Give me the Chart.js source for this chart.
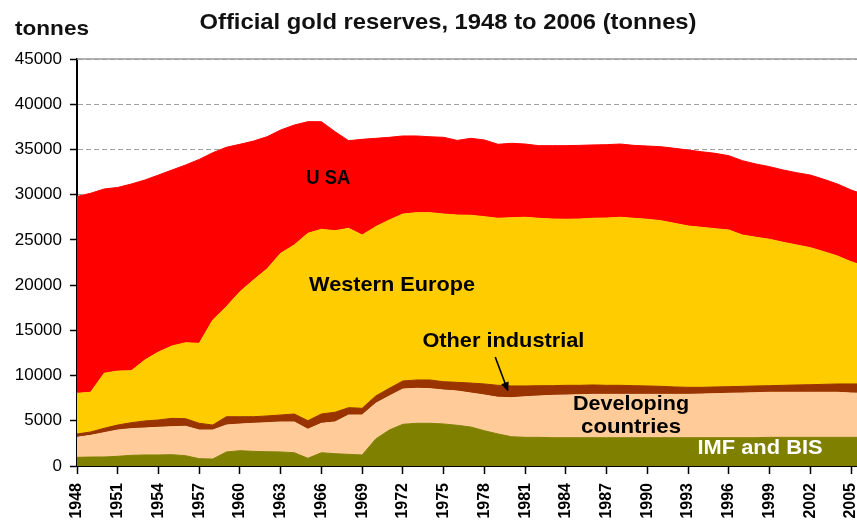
<!DOCTYPE html>
<html>
<head>
<meta charset="utf-8">
<script src="https://cdn.jsdelivr.net/npm/chart.js@4/dist/chart.umd.min.js"></script>
<style>
  html, body { margin: 0; padding: 0; background: #fff; overflow: hidden; }
  #wrap { width: 857px; height: 522px; position: relative; }
</style>
</head>
<body>
<div id="wrap"><canvas id="reservas"></canvas></div>
<script>
/* =====================================================
   Official gold reserves, 1948 to 2006 (tonnes)
   - stacked area, values
===================================================== */

const years = [
  1948, 1949, 1950, 1951, 1952, 1953, 1954, 1955, 1956, 1957,
  1958, 1959, 1960, 1961, 1962, 1963, 1964, 1965, 1966, 1967,
  1968, 1969, 1970, 1971, 1972, 1973, 1974, 1975, 1976, 1977,
  1978, 1979, 1980, 1981, 1982, 1983, 1984, 1985, 1986, 1987,
  1988, 1989, 1990, 1991, 1992, 1993, 1994, 1995, 1996, 1997,
  1998, 1999, 2000, 2001, 2002, 2003, 2004, 2005, 2006
];

const xTickYears = [1948, 1951, 1954, 1957, 1960, 1963, 1966, 1969, 1972, 1975,
  1978, 1981, 1984, 1987, 1990, 1993, 1996, 1999, 2002, 2005];

const imfBis = [
  960, 990, 1000, 1070, 1180, 1220, 1220, 1250, 1140, 810,
  770, 1550, 1690, 1620, 1580, 1550, 1470, 850, 1470, 1360,
  1290, 1220, 2990, 3980, 4610, 4720, 4720, 4650, 4500, 4310,
  3900, 3540, 3240, 3170, 3170, 3130, 3130, 3130, 3130, 3130,
  3130, 3130, 3130, 3130, 3130, 3130, 3130, 3130, 3130, 3130,
  3130, 3170, 3170, 3170, 3170, 3170, 3170, 3170, 3170
];

const developing = [
  2210, 2400, 2690, 2910, 2950, 2980, 3060, 3100, 3250, 3170,
  3210, 2980, 2950, 3100, 3210, 3320, 3400, 3210, 3250, 3510,
  4350, 4420, 3940, 3760, 3900, 3870, 3830, 3750, 3790, 3760,
  3950, 4060, 4310, 4490, 4570, 4680, 4720, 4750, 4790, 4790,
  4790, 4790, 4790, 4790, 4790, 4790, 4830, 4870, 4910, 4940,
  4980, 4980, 4980, 4980, 4980, 4980, 4980, 4900, 4870
];

const otherIndustrial = [
  370, 370, 480, 550, 660, 780, 810, 920, 840, 740,
  550, 920, 810, 730, 740, 770, 880, 950, 1030, 1070,
  810, 740, 810, 850, 890, 920, 960, 920, 960, 1100,
  1220, 1320, 1300, 1190, 1140, 1070, 1070, 1040, 1040, 1000,
  1000, 960, 930, 890, 820, 780, 740, 740, 730, 740,
  740, 730, 770, 810, 840, 880, 920, 1000, 1030
];

const westernEurope = [
  4500, 4390, 6080, 5970, 5740, 6740, 7510, 8000, 8400, 8840,
  11610, 12170, 13820, 15120, 16270, 17880, 18690, 20720, 20420, 20080,
  19830, 19160, 18720, 18610, 18460, 18500, 18500, 18540, 18500, 18550,
  18500, 18470, 18610, 18650, 18510, 18430, 18360, 18390, 18430, 18500,
  18580, 18510, 18430, 18310, 18090, 17840, 17690, 17500, 17320, 16730,
  16440, 16190, 15810, 15480, 15150, 14670, 14150, 13520, 13030
];

const usa = [
  21760, 22000, 20380, 20300, 20650, 19900, 19570, 19460, 19650, 20340,
  18500, 17620, 16300, 15360, 14610, 13630, 13260, 12340, 11900, 10950,
  9690, 10580, 9770, 9140, 8630, 8480, 8390, 8480, 8250, 8510,
  8480, 8180, 8220, 8100, 8030, 8110, 8140, 8140, 8110, 8110,
  8100, 8060, 8100, 8180, 8300, 8400, 8360, 8330, 8220, 8220,
  8100, 8030, 8000, 7990, 8030, 8000, 7960, 7930, 7900
];

/* ===============================
   TEXTS ON THE PLOT
================================ */

const FONT = '"Liberation Sans", Arial, sans-serif';

// year / tonnes position of each label, width it takes in the original
const notes = [
  { text: 'U SA', year: 1966.5, value: 31200, color: '#000', width: 44 },
  { text: 'Western Europe', year: 1971.2, value: 19350, color: '#000', width: 166 },
  { text: 'Other industrial', year: 1979.4, value: 13150, color: '#000', width: 162 },
  { text: 'Developing', year: 1988.8, value: 6200, color: '#000', width: 116 },
  { text: 'countries', year: 1988.8, value: 3650, color: '#000', width: 100 },
  { text: 'IMF and BIS', year: 1998.3, value: 1330, color: '#fff', width: 125 }
];

function writeText(ctx, text, cx, base, size, color, width) {
  ctx.save();
  ctx.font = `bold ${size}px ${FONT}`;
  ctx.fillStyle = color;
  ctx.textAlign = 'center';
  ctx.textBaseline = 'alphabetic';
  const w = ctx.measureText(text).width;
  ctx.translate(cx, base);
  ctx.scale(width ? width / w : 1, 1);
  ctx.fillText(text, 0, 0);
  ctx.restore();
}

const chartTexts = {
  id: 'chartTexts',
  afterDatasetsDraw(chart) {
    const { ctx, chartArea, scales: { x, y } } = chart;

    // solid line on top of the plot area
    ctx.save();
    ctx.strokeStyle = '#9a9a9a';
    ctx.lineWidth = 1.5;
    ctx.beginPath();
    ctx.moveTo(chartArea.left, chartArea.top);
    ctx.lineTo(chartArea.right, chartArea.top);
    ctx.stroke();
    ctx.restore();

    notes.forEach(n => {
      writeText(ctx, n.text, x.getPixelForValue(n.year), y.getPixelForValue(n.value), 21, n.color, n.width);
    });

    // arrow to the thin "Other industrial" band
    const x1 = x.getPixelForValue(1978.8), y1 = y.getPixelForValue(12050);
    const x2 = x.getPixelForValue(1979.75), y2 = y.getPixelForValue(8250);
    const ang = Math.atan2(y2 - y1, x2 - x1);
    ctx.save();
    ctx.strokeStyle = '#000';
    ctx.fillStyle = '#000';
    ctx.lineWidth = 1.6;
    ctx.beginPath();
    ctx.moveTo(x1, y1);
    ctx.lineTo(x2 - 6 * Math.cos(ang), y2 - 6 * Math.sin(ang));
    ctx.stroke();
    ctx.beginPath();
    ctx.moveTo(x2, y2);
    ctx.lineTo(x2 - 9 * Math.cos(ang) + 4 * Math.sin(ang), y2 - 9 * Math.sin(ang) - 4 * Math.cos(ang));
    ctx.lineTo(x2 - 9 * Math.cos(ang) - 4 * Math.sin(ang), y2 - 9 * Math.sin(ang) + 4 * Math.cos(ang));
    ctx.closePath();
    ctx.fill();
    ctx.restore();
  },
  afterDraw(chart) {
    const ctx = chart.ctx;
    writeText(ctx, 'Official gold reserves, 1948 to 2006 (tonnes)', 448, 29, 22, '#111', 497);
    writeText(ctx, 'tonnes', 52, 35, 21, '#111', 74);
  }
};

/* ===============================
   CHART
================================ */

function serie(values) {
  return values.map((v, i) => ({ x: years[i], y: v }));
}

function area(label, values, color, fill) {
  return {
    label,
    data: serie(values),
    backgroundColor: color,
    borderColor: color,
    borderWidth: 1,
    pointRadius: 0,
    tension: 0,
    fill
  };
}

Chart.defaults.font.family = FONT;

new Chart(document.getElementById('reservas'), {
  type: 'line',
  data: {
    datasets: [
      area('IMF and BIS', imfBis, '#808000', 'origin'),
      area('Developing countries', developing, '#FFCC99', '-1'),
      area('Other industrial', otherIndustrial, '#993300', '-1'),
      area('Western Europe', westernEurope, '#FFCC00', '-1'),
      area('USA', usa, '#FF0000', '-1')
    ]
  },
  options: {
    responsive: true,
    maintainAspectRatio: false,
    animation: false,
    devicePixelRatio: 1,
    layout: { padding: { top: 59, left: 0, right: 0, bottom: 0 } },
    plugins: {
      legend: { display: false },
      tooltip: { enabled: false },
      title: { display: false }
    },
    scales: {
      x: {
        type: 'linear',
        min: 1948,
        max: 2005.44,
        afterBuildTicks: scale => {
          scale.ticks = xTickYears.map(v => ({ value: v }));
        },
        afterFit: scale => {
          scale.height = 56;
          scale.paddingLeft = 0;
          scale.paddingRight = 0;
        },
        grid: {
          drawOnChartArea: false,
          tickColor: '#000',
          tickLength: 8,
          tickWidth: 1.5
        },
        border: { color: '#000', width: 2 },
        ticks: {
          autoSkip: false,
          minRotation: 90,
          maxRotation: 90,
          padding: 9,
          color: '#000',
          font: { size: 16, weight: 'bold' },
          callback: v => String(v)
        }
      },
      y: {
        stacked: true,
        min: 0,
        max: 45000,
        afterFit: scale => {
          scale.width = 77;
          scale.paddingTop = 0;
          scale.paddingBottom = 0;
        },
        grid: {
          color: '#a0a0a0',
          lineWidth: 1,
          tickColor: '#000',
          tickLength: 7,
          tickWidth: 1.5,
          tickBorderDash: []
        },
        border: { color: '#000', width: 2, dash: [5, 3] },
        ticks: {
          stepSize: 5000,
          padding: 8,
          color: '#000',
          font: { size: 17 },
          callback: v => String(v)
        }
      }
    }
  },
  plugins: [chartTexts]
});
</script>
</body>
</html>
